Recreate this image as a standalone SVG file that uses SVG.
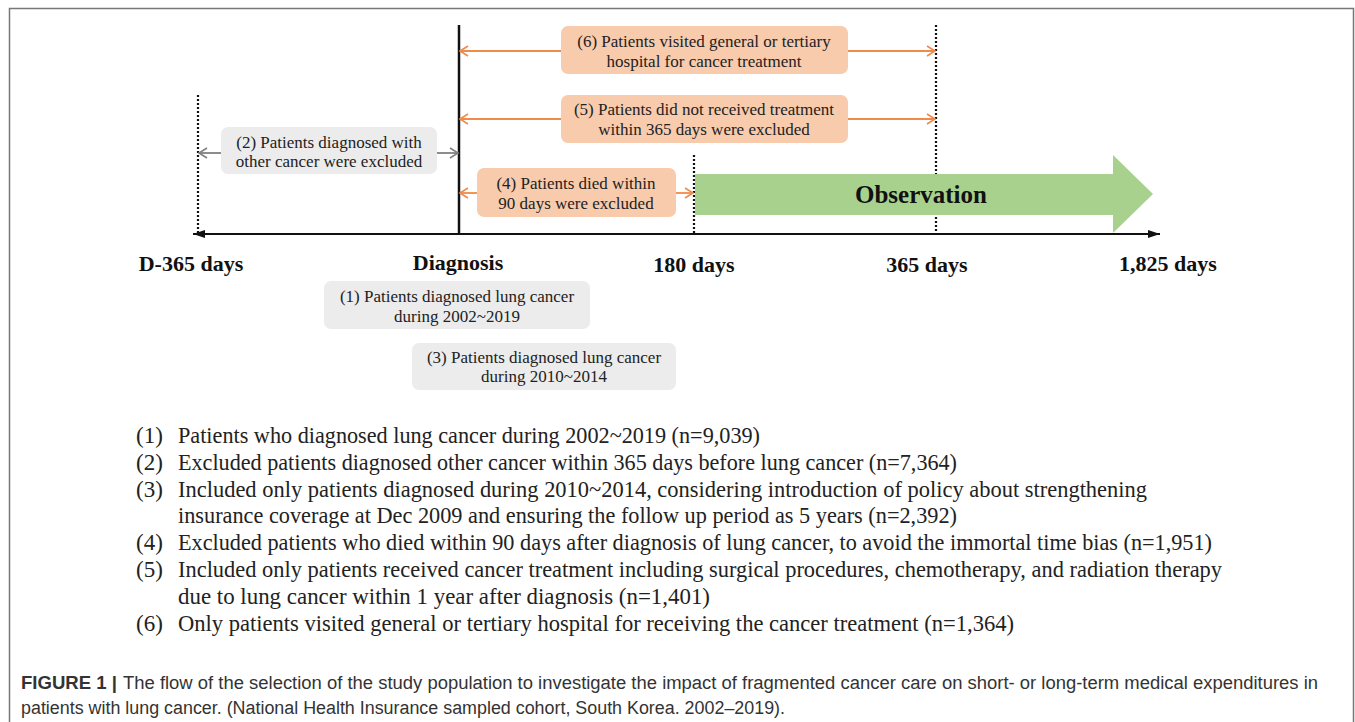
<svg xmlns="http://www.w3.org/2000/svg" width="1355" height="722" viewBox="0 0 1355 722">
<defs>
<style>
.bt{font-family:"Liberation Serif","Times New Roman",serif;font-size:17px;fill:#222;text-anchor:middle}
.ax{font-family:"Liberation Serif","Times New Roman",serif;font-size:22px;font-weight:bold;fill:#111;text-anchor:middle}
.fn{font-family:"Liberation Serif","Times New Roman",serif;font-size:23px;fill:#222}
.cap{font-family:"Liberation Sans",Arial,sans-serif;font-size:18px;fill:#333}
.ob{fill:#f8cbad}
.gb{fill:#ececec}
.oa{stroke:#f08a4b;stroke-width:1.8;fill:none}
.ga{stroke:#808080;stroke-width:1.8;fill:none}
.dot{stroke:#111;stroke-width:2.2;stroke-dasharray:2,2;fill:none}
</style>
<marker id="mo" markerWidth="14" markerHeight="14" refX="11" refY="7" orient="auto" markerUnits="userSpaceOnUse"><path d="M3,2 L11,7 L3,12" fill="none" stroke="#f08a4b" stroke-width="1.6"/></marker>
<marker id="mg" markerWidth="14" markerHeight="14" refX="11" refY="7" orient="auto" markerUnits="userSpaceOnUse"><path d="M3,2 L11,7 L3,12" fill="none" stroke="#808080" stroke-width="1.6"/></marker>
<marker id="mk" markerWidth="14" markerHeight="12" refX="12" refY="6" orient="auto" markerUnits="userSpaceOnUse"><path d="M0,2 L12,6 L0,10 Z" fill="#111"/></marker>
</defs>
<rect x="0" y="0" width="1355" height="722" fill="#fff"/>
<path d="M9.5,722 V8.5 H1353.5 V722" fill="none" stroke="#777" stroke-width="1.5"/>

<g id="connectors">
<line x1="459" y1="234" x2="193" y2="234" stroke="#111" stroke-width="2" marker-end="url(#mk)"/>
<line x1="459" y1="234" x2="1160" y2="234" stroke="#111" stroke-width="2" marker-end="url(#mk)"/>
<line x1="459" y1="25" x2="459" y2="234" stroke="#111" stroke-width="2.5"/>
<line class="dot" x1="198" y1="95" x2="198" y2="233"/>
<line class="dot" x1="694" y1="155" x2="694" y2="233"/>
<line class="dot" x1="936" y1="25" x2="936" y2="233"/>
<line class="oa" x1="561" y1="51" x2="460" y2="51" marker-end="url(#mo)"/>
<line class="oa" x1="848" y1="51" x2="935" y2="51" marker-end="url(#mo)"/>
<line class="oa" x1="561" y1="119" x2="460" y2="119" marker-end="url(#mo)"/>
<line class="oa" x1="848" y1="119" x2="935" y2="119" marker-end="url(#mo)"/>
<line class="oa" x1="477" y1="193" x2="460" y2="193" marker-end="url(#mo)"/>
<line class="oa" x1="676" y1="193" x2="693" y2="193" marker-end="url(#mo)"/>
<line class="ga" x1="221" y1="153" x2="199" y2="153" marker-end="url(#mg)"/>
<line class="ga" x1="437" y1="153" x2="458" y2="153" marker-end="url(#mg)"/>
</g>

<g id="observation">
<path d="M695,174 H1113 V155 L1153,194 L1113,233 V215 H695 Z" fill="#a9d18e"/>
<text x="921" y="203" class="ax" style="font-size:25px">Observation</text>
</g>

<g id="box6">
<rect class="ob" x="561" y="26" width="287" height="48" rx="7"/>
<text class="bt" x="704" y="47">(6) Patients visited general or tertiary</text>
<text class="bt" x="704" y="67">hospital for cancer treatment</text>
</g>
<g id="box5">
<rect class="ob" x="561" y="95" width="287" height="48" rx="7"/>
<text class="bt" x="704" y="115">(5) Patients did not received treatment</text>
<text class="bt" x="704" y="135">within 365 days were excluded</text>
</g>
<g id="box4">
<rect class="ob" x="477" y="168" width="199" height="49" rx="7"/>
<text class="bt" x="576" y="189">(4) Patients died within</text>
<text class="bt" x="576" y="209">90 days were excluded</text>
</g>
<g id="box2">
<rect class="gb" x="221" y="127" width="216" height="47" rx="7"/>
<text class="bt" x="329" y="148">(2) Patients diagnosed with</text>
<text class="bt" x="329" y="167">other cancer were excluded</text>
</g>
<g id="box1">
<rect class="gb" x="324" y="281" width="266" height="48" rx="7"/>
<text class="bt" x="457" y="302">(1) Patients diagnosed lung cancer</text>
<text class="bt" x="457" y="322">during 2002~2019</text>
</g>
<g id="box3">
<rect class="gb" x="412" y="343" width="264" height="47" rx="7"/>
<text class="bt" x="544" y="363">(3) Patients diagnosed lung cancer</text>
<text class="bt" x="544" y="382">during 2010~2014</text>
</g>

<g id="axis-labels">
<text class="ax" x="191" y="271">D-365 days</text>
<text class="ax" x="458" y="270">Diagnosis</text>
<text class="ax" x="694" y="272">180 days</text>
<text class="ax" x="927" y="272">365 days</text>
<text class="ax" x="1168" y="271">1,825 days</text>
</g>

<g id="footnotes">
<text class="fn" x="136" y="443">(1)</text>
<text class="fn" x="178" y="443" textLength="582" lengthAdjust="spacingAndGlyphs">Patients who diagnosed lung cancer during 2002~2019 (n=9,039)</text>
<text class="fn" x="136" y="470">(2)</text>
<text class="fn" x="178" y="470" textLength="779" lengthAdjust="spacingAndGlyphs">Excluded patients diagnosed other cancer within 365 days before lung cancer (n=7,364)</text>
<text class="fn" x="136" y="497">(3)</text>
<text class="fn" x="178" y="497" textLength="969" lengthAdjust="spacingAndGlyphs">Included only patients diagnosed during 2010~2014, considering introduction of policy about strengthening</text>
<text class="fn" x="178" y="523" textLength="779" lengthAdjust="spacingAndGlyphs">insurance coverage at Dec 2009 and ensuring the follow up period as 5 years (n=2,392)</text>
<text class="fn" x="136" y="550">(4)</text>
<text class="fn" x="178" y="550" textLength="1034" lengthAdjust="spacingAndGlyphs">Excluded patients who died within 90 days after diagnosis of lung cancer, to avoid the immortal time bias (n=1,951)</text>
<text class="fn" x="136" y="577">(5)</text>
<text class="fn" x="178" y="577" textLength="1044" lengthAdjust="spacingAndGlyphs">Included only patients received cancer treatment including surgical procedures, chemotherapy, and radiation therapy</text>
<text class="fn" x="178" y="604" textLength="532" lengthAdjust="spacingAndGlyphs">due to lung cancer within 1 year after diagnosis (n=1,401)</text>
<text class="fn" x="136" y="631">(6)</text>
<text class="fn" x="178" y="631" textLength="836" lengthAdjust="spacingAndGlyphs">Only patients visited general or tertiary hospital for receiving the cancer treatment (n=1,364)</text>
</g>

<g id="caption">
<text class="cap" x="21" y="689" font-weight="bold" fill="#222" textLength="96" lengthAdjust="spacingAndGlyphs">FIGURE 1 |</text>
<text class="cap" x="123" y="689" textLength="1195" lengthAdjust="spacingAndGlyphs">The flow of the selection of the study population to investigate the impact of fragmented cancer care on short- or long-term medical expenditures in</text>
<text class="cap" x="21" y="714" textLength="764" lengthAdjust="spacingAndGlyphs">patients with lung cancer. (National Health Insurance sampled cohort, South Korea. 2002–2019).</text>
</g>
</svg>
